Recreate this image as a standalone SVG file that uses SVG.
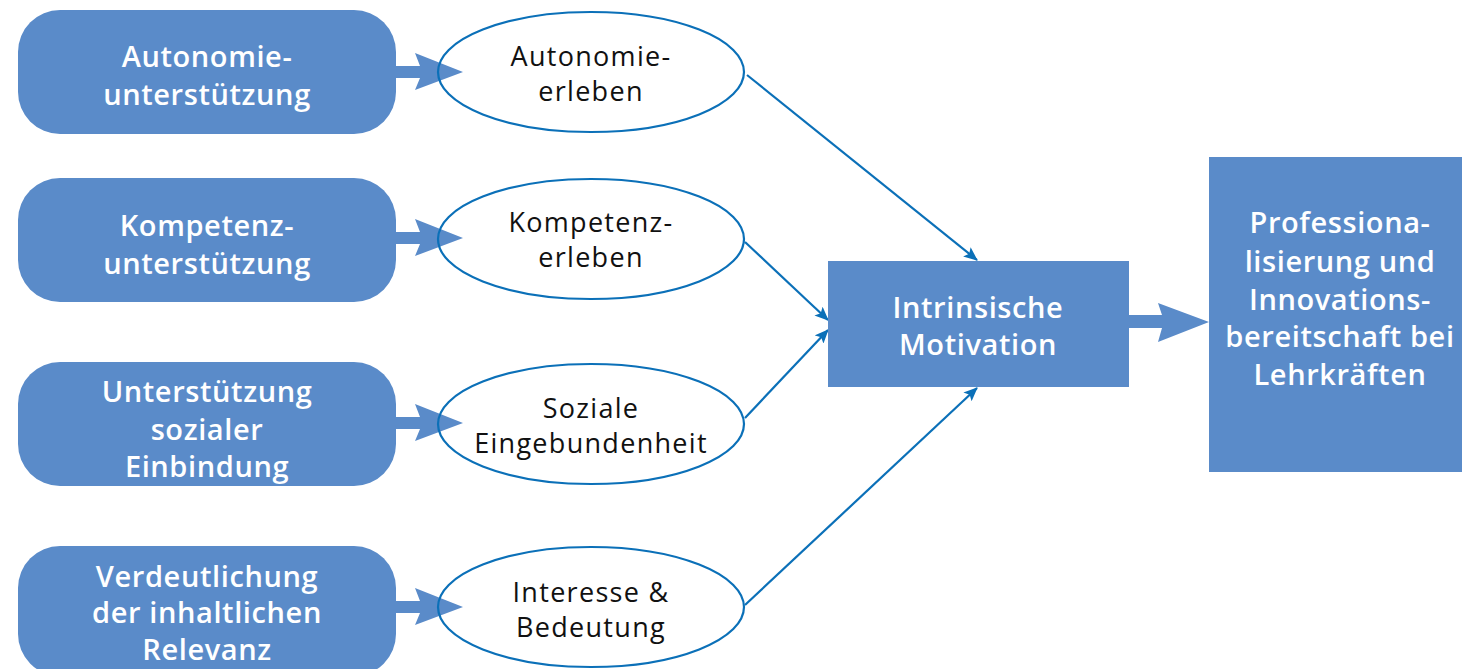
<svg xmlns="http://www.w3.org/2000/svg" width="1462" height="669" viewBox="0 0 1462 669">
<defs>
<style>
.box{fill:#5a8bc9}
.ell{fill:none;stroke:#0b70b8;stroke-width:2.2}
.wt{fill:#fff;font-family:"Open Sans",sans-serif;font-weight:600;font-size:29px;letter-spacing:0.6px;text-anchor:middle;dominant-baseline:central}
.bt{fill:#111;font-family:"Open Sans",sans-serif;font-weight:400;font-size:27px;letter-spacing:1.3px;text-anchor:middle;dominant-baseline:central}
.con{stroke:#0b70b8;stroke-width:2.2;fill:none;marker-end:url(#ah)}
.blk{fill:#5a8bc9}
</style>
<marker id="ah" viewBox="0 0 14 12" refX="13" refY="6" markerWidth="14" markerHeight="12" markerUnits="userSpaceOnUse" orient="auto">
<path d="M0,0 L14,6 L0,12 L3,6 Z" fill="#0b70b8"/>
</marker>
</defs>
<g id="connectors">
<path class="blk" d="M396,66 H420 L415,53 L463,72 L415,90 L420,78 H396 Z"/>
<path class="blk" d="M396,232 H420 L415,219 L463,238 L415,256 L420,244 H396 Z"/>
<path class="blk" d="M396,417 H420 L415,404 L463,423 L415,441 L420,429 H396 Z"/>
<path class="blk" d="M396,601 H420 L415,588 L463,607 L415,625 L420,613 H396 Z"/>
<path class="blk" d="M1129,315 H1162 L1158,303 L1209,322 L1158,342 L1162,328 H1129 Z"/>
<line class="con" x1="747" y1="75" x2="977" y2="260"/>
<line class="con" x1="745" y1="242" x2="828" y2="320"/>
<line class="con" x1="745" y1="418" x2="828" y2="330"/>
<line class="con" x1="745" y1="605" x2="977" y2="388"/>
</g>
<g id="n1"><rect class="box" x="18" y="10" width="378" height="124" rx="42"/><text class="wt" x="207" y="55">Autonomie-</text><text class="wt" x="207" y="93">unterstützung</text></g>
<g id="n2"><rect class="box" x="18" y="178" width="378" height="124" rx="42"/><text class="wt" x="207" y="224">Kompetenz-</text><text class="wt" x="207" y="262">unterstützung</text></g>
<g id="n3"><rect class="box" x="18" y="362" width="378" height="124" rx="42"/><text class="wt" x="207" y="390">Unterstützung</text><text class="wt" x="207" y="428">sozialer</text><text class="wt" x="207" y="465">Einbindung</text></g>
<g id="n4"><rect class="box" x="18" y="546" width="378" height="130" rx="42"/><text class="wt" x="207" y="575">Verdeutlichung</text><text class="wt" x="207" y="611">der inhaltlichen</text><text class="wt" x="207" y="648">Relevanz</text></g>
<g id="e1"><ellipse class="ell" cx="591" cy="72" rx="153" ry="60"/><text class="bt" x="591" y="55">Autonomie-</text><text class="bt" x="591" y="90">erleben</text></g>
<g id="e2"><ellipse class="ell" cx="591" cy="239" rx="153" ry="60"/><text class="bt" x="591" y="221">Kompetenz-</text><text class="bt" x="591" y="256">erleben</text></g>
<g id="e3"><ellipse class="ell" cx="591" cy="424" rx="153" ry="60"/><text class="bt" x="591" y="407">Soziale</text><text class="bt" x="591" y="442">Eingebundenheit</text></g>
<g id="e4"><ellipse class="ell" cx="591" cy="607" rx="153" ry="60"/><text class="bt" x="591" y="591">Interesse &amp;</text><text class="bt" x="591" y="626">Bedeutung</text></g>
<g id="im"><rect class="box" x="828" y="261" width="301" height="126"/><text class="wt" x="978" y="306">Intrinsische</text><text class="wt" x="978" y="343">Motivation</text></g>
<g id="pr"><rect class="box" x="1209" y="157" width="253" height="315"/><text class="wt" x="1340" y="221">Professiona-</text><text class="wt" x="1340" y="260">lisierung und</text><text class="wt" x="1340" y="298">Innovations-</text><text class="wt" x="1340" y="335">bereitschaft bei</text><text class="wt" x="1340" y="373">Lehrkräften</text></g>
</svg>
